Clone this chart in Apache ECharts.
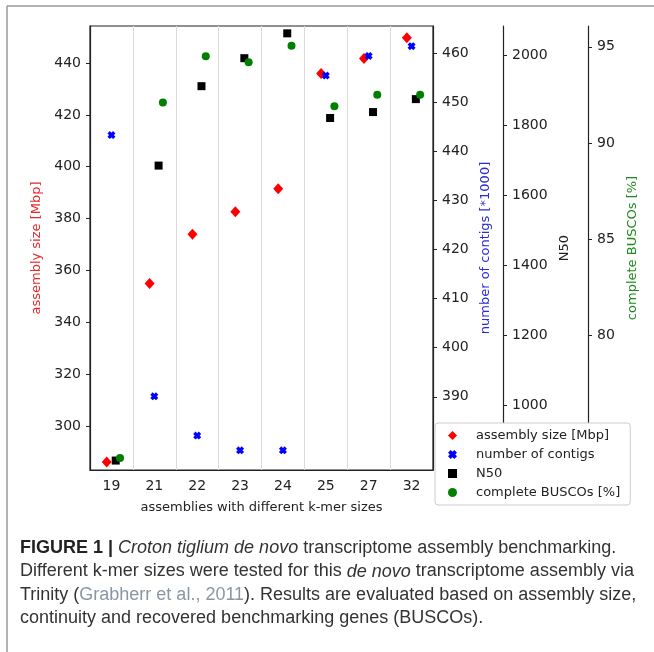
<!DOCTYPE html>
<html><head><meta charset="utf-8">
<script src="https://cdn.jsdelivr.net/npm/echarts@6/dist/echarts.min.js"></script>
<style>html,body{margin:0;padding:0;background:#fff}#c{width:654px;height:652px}</style>
</head><body><div id="c"></div>
<script>
// ---- data ----
const categories = ['19', '21', '22', '23', '24', '25', '27', '32'];
const assemblySize = [286.1, 355.0, 374.0, 382.6, 391.5, 436.0, 441.8, 449.8];
const contigs = [443.3, 390.1, 382.1, 379.1, 379.1, 455.4, 459.4, 461.4];
const n50 = [841, 1684, 1911, 1991, 2062, 1820, 1837, 1874];
const busco = [73.6, 92.1, 94.5, 94.2, 95.05, 91.9, 92.5, 92.5];

const sizeTicks = [300, 320, 340, 360, 380, 400, 420, 440];
const contigTicks = [390, 400, 410, 420, 430, 440, 450, 460];
const n50Ticks = [1000, 1200, 1400, 1600, 1800, 2000];
const buscoTicks = [80, 85, 90, 95];

const seriesNames = ['assembly size [Mbp]', 'number of contigs', 'N50', 'complete BUSCOs [%]'];
const axisNames = ['assembly size [Mbp]', 'number of contigs [*1000]', 'N50', 'complete BUSCOs [%]'];
const xName = 'assemblies with different k-mer sizes';

const captionLines = [
  '{b|FIGURE 1 |}{n| }{i|Croton tiglium de novo}{n| transcriptome assembly benchmarking.}',
  '{n|Different k-mer sizes were tested for this }{i|de novo}{n| transcriptome assembly via}',
  '{n|Trinity (}{l|Grabherr et al., 2011}{n|). Results are evaluated based on assembly size,}',
  '{n|continuity and recovered benchmarking genes (BUSCOs).}'
];

// ---- chart ----
const FONT = 'DejaVu Sans';
const INK = '#222';
const xOffsets = [-0.11, 0, 0.1, 0.2];

function yAxisDef(pos, offset, min, max, ticks, name, nameColor, nameGap) {
  return {
    type: 'value', position: pos, offset: offset, min: min, max: max,
    name: name, nameLocation: 'middle', nameGap: nameGap, nameRotate: 90,
    nameTextStyle: { color: nameColor, fontFamily: FONT, fontSize: 13 },
    axisLine: { show: true, onZero: false, lineStyle: { color: INK, width: 1.2 } },
    axisTick: { show: true, length: 4, customValues: ticks, lineStyle: { color: INK } },
    axisLabel: { customValues: ticks, margin: 9, color: INK, fontFamily: FONT, fontSize: 14,
                 formatter: v => String(v) },
    splitLine: { show: false }
  };
}

const xPath = 'path://M0,3 L3,0 L5,2 L7,0 L10,3 L8,5 L10,7 L7,10 L5,8 L3,10 L0,7 L2,5 Z';
const seriesDefs = [
  { data: assemblySize, axis: 0, color: '#ff0000', symbol: 'diamond', size: [10, 11] },
  { data: contigs, axis: 1, color: '#0000ff', symbol: xPath, size: 8 },
  { data: n50, axis: 2, color: '#000000', symbol: 'rect', size: 8 },
  { data: busco, axis: 3, color: '#008000', symbol: 'circle', size: 8 }
];

const CFS = 18;
const base = { fontFamily: 'Liberation Sans', fontSize: CFS, lineHeight: 22, verticalAlign: 'middle' };
const captionGraphics = captionLines.map((t, i) => ({
  type: 'text', x: 20, y: 548 + i * 23.5,
  style: {
    text: t, fontFamily: 'Liberation Sans', fontSize: CFS, lineHeight: 22, fill: '#333', verticalAlign: 'middle',
    rich: {
      n: Object.assign({ fill: '#333' }, base),
      b: Object.assign({ fontWeight: 'bold', fill: '#222' }, base),
      i: Object.assign({ fontStyle: 'italic', fill: '#333' }, base),
      l: Object.assign({ fill: '#8a96a3' }, base)
    }
  }
}));

const option = {
  animation: false,
  backgroundColor: '#fff',
  grid: { left: 90, top: 26, width: 343, height: 444, show: true, borderColor: INK, borderWidth: 1.2 },
  xAxis: [{
    type: 'category', data: categories, boundaryGap: true,
    name: xName, nameLocation: 'middle', nameGap: 31,
    nameTextStyle: { color: INK, fontFamily: FONT, fontSize: 13 },
    axisLine: { lineStyle: { color: INK, width: 1.2 } },
    axisTick: { alignWithLabel: true, length: 4, lineStyle: { color: INK } },
    axisLabel: { margin: 9, color: INK, fontFamily: FONT, fontSize: 14 },
    splitLine: { show: true, lineStyle: { color: '#d9d9d9', width: 1 } }
  }, {
    type: 'value', min: -0.5, max: categories.length - 0.5, show: false
  }],
  yAxis: [
    yAxisDef('left', 0, 283, 454.3, sizeTicks, axisNames[0], '#e8262b', 47),
    yAxisDef('right', 0, 375.1, 465.5, contigTicks, axisNames[1], '#2a2ad8', 44),
    yAxisDef('right', 70, 814, 2083, n50Ticks, axisNames[2], INK, 43),
    yAxisDef('right', 155, 72.98, 96.08, buscoTicks, axisNames[3], '#1f8a1f', 35)
  ],
  legend: {
    orient: 'vertical', left: 435, top: 423,
    padding: [6, 10, 6, 13], itemWidth: 9, itemHeight: 9, itemGap: 6,
    backgroundColor: '#fff', borderColor: '#cccccc', borderWidth: 1, borderRadius: 3,
    formatter: n => '{t|' + n + '}',
    textStyle: { fontFamily: FONT, fontSize: 13, color: INK,
                 rich: { t: { fontFamily: FONT, fontSize: 13, color: INK, padding: [0, 0, 0, 14] } } },
    data: seriesNames, z: 20
  },
  series: seriesDefs.map((s, k) => ({
    type: 'scatter', name: seriesNames[k], xAxisIndex: 1, yAxisIndex: s.axis,
    symbol: s.symbol, symbolSize: s.size,
    itemStyle: { color: s.color, opacity: 1 },
    data: s.data.map((v, i) => [i + xOffsets[k], v]),
    z: 3 + k
  })),
  graphic: [
    { type: 'line', shape: { x1: 7, y1: 6, x2: 654, y2: 6 }, style: { stroke: '#999', lineWidth: 1.5 } },
    { type: 'line', shape: { x1: 7, y1: 6, x2: 7, y2: 652 }, style: { stroke: '#999', lineWidth: 1.5 } }
  ].concat(captionGraphics)
};

const chart = echarts.init(document.getElementById('c'), null, { renderer: 'canvas' });
chart.setOption(option);
</script></body></html>
